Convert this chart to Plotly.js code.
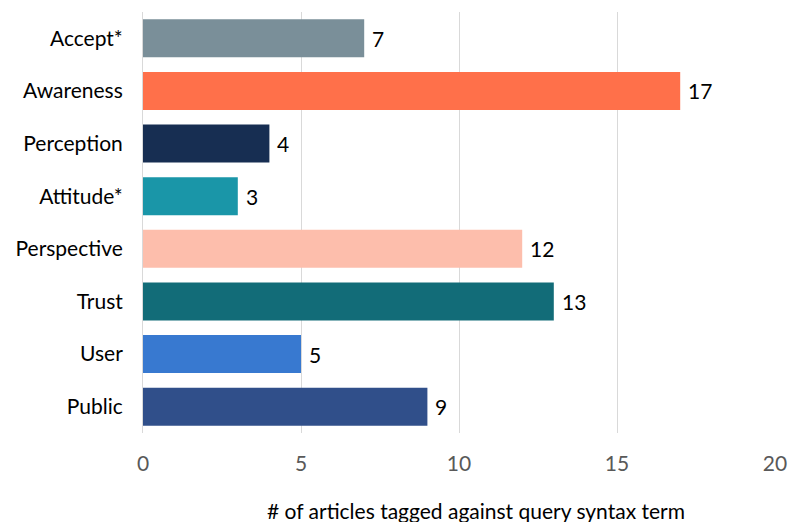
<!DOCTYPE html>
<html>
<head>
<meta charset="utf-8">
<script src="https://cdn.plot.ly/plotly-3.0.1.min.js"></script>
<style>html,body{margin:0;padding:0;background:#fff;}#chart{width:788px;height:522px;}</style>
</head>
<body>
<div id="chart"></div>
<script>
var categories = ["Accept*", "Awareness", "Perception", "Attitude*", "Perspective", "Trust", "User", "Public"];
var counts = [7, 17, 4, 3, 12, 13, 5, 9];
var barColors = ["#7A8F99", "#FF704A", "#172E52", "#1A96A8", "#FDBEAC", "#126C78", "#3879D0", "#304F8A"];
var xTicks = [0, 5, 10, 15, 20];
var xTitle = "# of articles tagged against query syntax term";

var FONT = "Lato, sans-serif";
var FS = 21;

var trace = {
  type: "bar",
  orientation: "h",
  y: categories,
  x: counts,
  marker: {color: barColors},
  hoverinfo: "none"
};

var annots = categories.map(function (c, i) {
  return {
    x: counts[i], y: c, xref: "x", yref: "y",
    text: String(counts[i]), showarrow: false,
    xanchor: "left", yanchor: "middle", xshift: 6,
    font: {family: FONT, size: FS, color: "#000"}
  };
});
annots.push({
  x: 0.5, y: 0, xref: "paper", yref: "paper",
  xanchor: "center", yanchor: "middle", xshift: 17, yshift: -77,
  text: xTitle, showarrow: false,
  font: {family: FONT, size: FS, color: "#000"}
});

var layout = {
  width: 788,
  height: 522,
  margin: {l: 143, r: 13, t: 12, b: 89},
  paper_bgcolor: "#fff",
  plot_bgcolor: "#fff",
  bargap: 0.28,
  showlegend: false,
  font: {family: FONT, size: FS, color: "#000"},
  annotations: annots,
  xaxis: {
    range: [0, 20],
    tickvals: xTicks,
    ticktext: xTicks.map(String),
    showgrid: true,
    gridcolor: "#D9D9D9",
    gridwidth: 1,
    zeroline: false,
    showline: false,
    ticks: "",
    ticklabelstandoff: 16,
    tickfont: {family: FONT, size: FS, color: "#595959"}
  },
  yaxis: {
    type: "category",
    autorange: "reversed",
    showgrid: false,
    zeroline: false,
    showline: true,
    linecolor: "#D9D9D9",
    linewidth: 1,
    ticks: "",
    ticklabelstandoff: 15,
    tickfont: {family: FONT, size: FS, color: "#000"}
  }
};

Plotly.newPlot("chart", [trace], layout, {displayModeBar: false, staticPlot: true});
</script>
</body>
</html>
